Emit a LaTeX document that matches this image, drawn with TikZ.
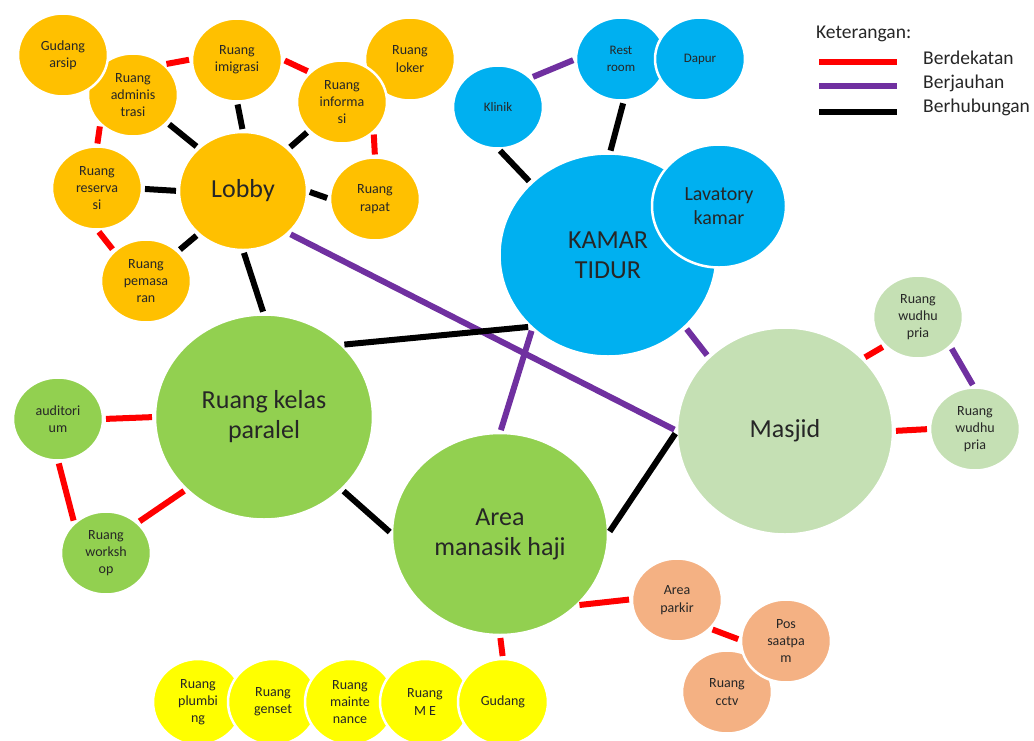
\documentclass[tikz,border=0pt]{standalone}
\usepackage{fontspec}
\setmainfont{Carlito}
\usetikzlibrary{shapes.geometric}
\definecolor{cgold}{HTML}{FFC000}
\definecolor{cblue}{HTML}{00B0F0}
\definecolor{cgreen}{HTML}{92D050}
\definecolor{clgreen}{HTML}{C5E0B4}
\definecolor{cyel}{HTML}{FFFF00}
\definecolor{corng}{HTML}{F4B183}
\definecolor{cred}{HTML}{FF0000}
\definecolor{cpurple}{HTML}{7030A0}
\newcommand\fsS{\fontsize{14}{17.3}\selectfont}
\newcommand\fsB{\fontsize{13}{17}\selectfont}
\newcommand\fsM{\fontsize{20}{23.5}\selectfont}
\newcommand\fsL{\fontsize{26}{30}\selectfont}
\newcommand\fsK{\fontsize{19.5}{24}\selectfont}
\begin{document}
\begin{tikzpicture}[x=1pt,y=-1pt,
  bub/.style={ellipse, inner sep=0pt, outer sep=0pt, draw=white, line width=2.5pt,
              align=center, text=black!85, font=\fsS},
  sz/.style 2 args={minimum width=#1pt, minimum height=#2pt},
  small/.style={bub, sz={90}{83}},
  cn/.style={line width=6pt, shorten <=3pt, shorten >=3pt},
  near/.style={cn, draw=cred},
  far/.style={cn, draw=cpurple},
  link/.style={cn, draw=black},
  legline/.style={line width=6pt},
  legtext/.style={anchor=base west, inner sep=0pt, font=\fsK, text=black!85}]
\useasboundingbox (0,0) rectangle (1034,740);

% ---- Lobby cluster (gold)
\node[small, fill=cgold] (admin) at (133,95) {Ruang\\adminis\\trasi};
\node[small, fill=cgold] (arsip) at (63,55) {Gudang\\arsip};
\node[small, fill=cgold] (imig) at (237,60) {Ruang\\imigrasi};
\node[small, fill=cgold] (loker) at (410,59) {Ruang\\loker};
\node[small, fill=cgold] (info) at (342,102) {Ruang\\informa\\si};
\node[bub, sz={128}{118}, fill=cgold, font=\fsL] (lobby) at (243,191) {Lobby};
\node[small, fill=cgold] (reserv) at (97,188) {Ruang\\reserva\\si};
\node[small, fill=cgold] (rapat) at (375,199) {Ruang\\rapat};
\node[small, fill=cgold] (pemasar) at (146,281) {Ruang\\pemasa\\ran};

% ---- Kamar cluster (blue)
\node[small, fill=cblue, font=\fsB] (klinik) at (498,107) {Klinik};
\node[small, fill=cblue, font=\fsB] (rest) at (621,59) {Rest\\room};
\node[small, fill=cblue, font=\fsB] (dapur) at (700,59) {Dapur};
\node[bub, sz={217}{203}, fill=cblue, font=\fsL] (kamar) at (608,255) {KAMAR\\TIDUR};
\node[bub, sz={134}{123}, fill=cblue, font=\fsM] (lav) at (719,206) {Lavatory\\kamar};

% ---- Green cluster
\node[bub, sz={218}{205}, fill=cgreen, font=\fsL] (kelas) at (264,417) {Ruang kelas\\paralel};
\node[small, fill=cgreen] (audit) at (58,419) {auditori\\um};
\node[small, fill=cgreen] (work) at (106,553) {Ruang\\worksh\\op};
\node[bub, sz={216}{202}, fill=cgreen, font=\fsL] (area) at (500,534) {Area\\manasik haji};

% ---- Masjid cluster
\node[bub, sz={216}{207}, fill=clgreen, font=\fsL] (masjid) at (785,431) {Masjid};
\node[small, fill=clgreen] (wudhuA) at (918,317) {Ruang\\wudhu\\pria};
\node[small, fill=clgreen] (wudhuB) at (975,429) {Ruang\\wudhu\\pria};

% ---- Yellow row
\node[bub, sz={90}{86}, fill=cyel] (plumb) at (198,702) {Ruang\\plumbi\\ng};
\node[bub, sz={90}{86}, fill=cyel] (genset) at (273,702) {Ruang\\genset};
\node[bub, sz={90}{86}, fill=cyel] (maint) at (350,702) {Ruang\\mainte\\nance};
\node[bub, sz={90}{86}, fill=cyel] (me) at (425,702) {Ruang\\M E};
\node[bub, sz={90}{86}, fill=cyel] (gudang) at (503,702) {Gudang};

% ---- Orange cluster
\node[small, fill=corng] (parkir) at (677,600) {Area\\parkir};
\node[small, fill=corng] (cctv) at (727,692) {Ruang\\cctv};
\node[small, fill=corng] (pos) at (786,641) {Pos\\saatpa\\m};

% ---- Red (Berdekatan)
\draw[near] (admin.45) -- (imig.179);
\draw[near] (imig.1) -- (info.137);
\draw[near] (admin.-139) -- (reserv.90);
\draw[near] (info.-43) -- (rapat.90);
\draw[near] (reserv.-90) -- (pemasar.137);
\draw[near] (audit.0) -- (kelas.180);
\draw[near] (audit.-90) -- (work.137);
\draw[near] (work.44) -- (kelas.-137);
\draw[near] (area.-43) -- (parkir.179);
\draw[near] (parkir.-41) -- (pos.179);
\draw[near] (area.-90) -- (gudang.90);
\draw[near] (masjid.43) -- (wudhuA.-139);
\draw[near] (masjid.0) -- (wudhuB.180);

% ---- Purple (Berjauhan)
\draw[far] (klinik.42) -- (rest.180);
\draw[far] (lobby.-43) -- (masjid.180);
\draw[far] (kamar.-136) -- (area.90);
\draw[far] (kamar.-43) -- (masjid.136);
\draw[far] (wudhuA.-42) -- (wudhuB.91);

% ---- Black (Berhubungan)
\draw[link] (admin.-39) -- (lobby.136);
\draw[link] (imig.-90) -- (lobby.90);
\draw[link] (info.-139) -- (lobby.43);
\draw[link] (reserv.-1) -- (lobby.180);
\draw[link] (rapat.180) -- (lobby.0);
\draw[link] (pemasar.43) -- (lobby.-136);
\draw[link] (lobby.-90) -- (kelas.90);
\draw[link] (rest.-86) -- (kamar.89);
\draw[link] (klinik.-90) -- (kamar.137);
\draw[link] (kelas.43) -- (kamar.-137);
\draw[link] (kelas.-43) -- (area.180);
\draw[link] (masjid.180) -- (area.0);

% ---- Legend
\node[legtext] (ket) at (816,38) {Keterangan:};
\coordinate (r1) at (819,62); \coordinate (r2) at (897,62);
\coordinate (p1) at (819,86); \coordinate (p2) at (897,86);
\coordinate (b1) at (819,112); \coordinate (b2) at (897,112);
\draw[legline, cred] (r1) -- (r2);
\draw[legline, cpurple] (p1) -- (p2);
\draw[legline, black] (b1) -- (b2);
\node[legtext] (tdekat) at (923,64) {Berdekatan};
\node[legtext] (tjauh) at (923,88) {Berjauhan};
\node[legtext] (thubung) at (923,112) {Berhubungan};
\end{tikzpicture}
\end{document}
